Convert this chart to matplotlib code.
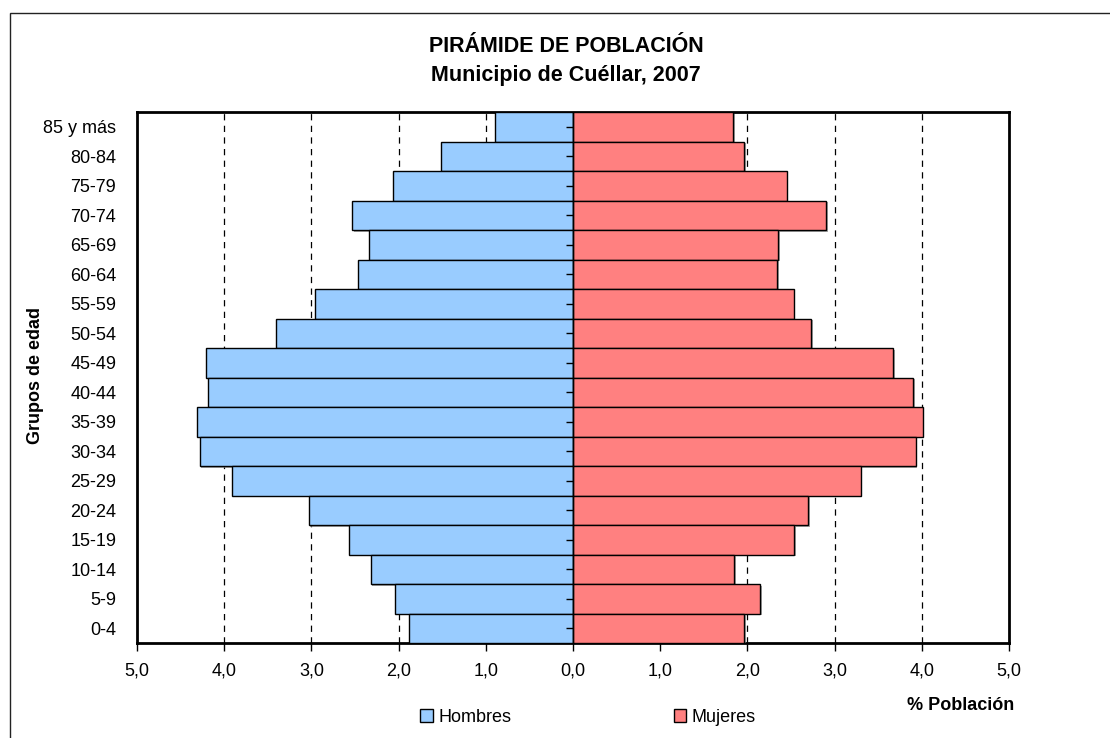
import matplotlib
matplotlib.use("Agg")
import matplotlib.pyplot as plt
from matplotlib import font_manager
from matplotlib.patches import Rectangle, Patch
import matplotlib.patheffects as pe
import numpy as np

# age groups, top to bottom
grupos = ["85 y más", "80-84", "75-79", "70-74", "65-69", "60-64", "55-59",
          "50-54", "45-49", "40-44", "35-39", "30-34", "25-29", "20-24",
          "15-19", "10-14", "5-9", "0-4"]
hombres = [0.90, 1.51, 2.06, 2.53, 2.34, 2.47, 2.96, 3.41, 4.21, 4.19,
           4.31, 4.28, 3.91, 3.03, 2.57, 2.32, 2.04, 1.88]
mujeres = [1.84, 1.96, 2.45, 2.90, 2.35, 2.34, 2.53, 2.73, 3.67, 3.90,
           4.01, 3.93, 3.30, 2.70, 2.54, 1.85, 2.15, 1.96]
xticks = [-5, -4, -3, -2, -1, 0, 1, 2, 3, 4, 5]

names = {f.name for f in font_manager.fontManager.ttflist}
narrow = "Liberation Sans Narrow" if "Liberation Sans Narrow" in names else "Liberation Sans"
plt.rcParams['font.family'] = [narrow, 'DejaVu Sans']
fs = 13

W, H = 1110, 738
fig = plt.figure(figsize=(W / 100, H / 100), dpi=100)
ax = fig.add_axes([137 / W, 1 - 643 / H, 872 / W, 531 / H])

y = np.arange(len(grupos))[::-1]
shadow = [pe.SimplePatchShadow(offset=(1.2, -1.2), shadow_rgbFace='#808080', alpha=0.7), pe.Normal()]
bh = ax.barh(y, -np.array(hombres), height=1.0, color='#99CCFF', edgecolor='black', linewidth=1, zorder=3)
bm = ax.barh(y, mujeres, height=1.0, color='#FF8080', edgecolor='black', linewidth=1, zorder=3)
for b in list(bh) + list(bm):
    b.set_path_effects(shadow)

for v in xticks:
    if v not in (0, -5, 5):
        ax.axvline(v, color='black', lw=0.9, dashes=(5, 4.3), zorder=1)
ax.axvline(0, color='black', lw=1, zorder=4)
# small ticks for the age groups sit on the central axis
ax.plot(np.zeros(len(y)), y, linestyle='none', marker=0, markersize=5,
        color='black', markeredgewidth=1, zorder=4)

ax.set_xlim(-5, 5)
ax.set_ylim(-0.5, len(grupos) - 0.5)
ax.set_xticks(xticks)
ax.set_xticklabels([f"{abs(v):.1f}".replace('.', ',') for v in xticks], fontsize=fs)
ax.tick_params(axis='x', direction='out', length=6, width=1, pad=8)
ax.set_yticks(y)
ax.set_yticklabels(grupos, fontsize=fs)
ax.tick_params(axis='y', length=0, pad=15)
for s in ax.spines.values():
    s.set_linewidth(2)

fig.text(566 / W, 1 - 46 / H, "PIRÁMIDE DE POBLACIÓN", ha='center', va='center',
         fontsize=15.5, fontweight='bold', family='Liberation Sans')
fig.text(566 / W, 1 - 76 / H, "Municipio de Cuéllar, 2007", ha='center', va='center',
         fontsize=15.5, fontweight='bold', family='Liberation Sans')
fig.text(35 / W, 1 - 376 / H, "Grupos de edad", rotation=90, ha='center', va='center',
         fontsize=fs, fontweight='bold')
fig.text(1014 / W, 1 - 705 / H, "% Población", ha='right', va='center',
         fontsize=fs, fontweight='bold')

handles = [Patch(facecolor='#99CCFF', edgecolor='black', lw=1),
           Patch(facecolor='#FF8080', edgecolor='black', lw=1)]
fig.legend(handles, ["Hombres", "Mujeres"], ncol=2, loc='center',
           bbox_to_anchor=(588 / W, 1 - 717 / H), frameon=False, fontsize=fs,
           handlelength=0.7, handleheight=0.7, handletextpad=0.3, columnspacing=9.0)

# outer chart frame
fig.add_artist(Rectangle((10 / W, -0.5), 2, 0.5 + (1 - 13 / H), transform=fig.transFigure,
                         fill=False, edgecolor='#222222', lw=1))

fig.savefig("out.png", dpi=100)
